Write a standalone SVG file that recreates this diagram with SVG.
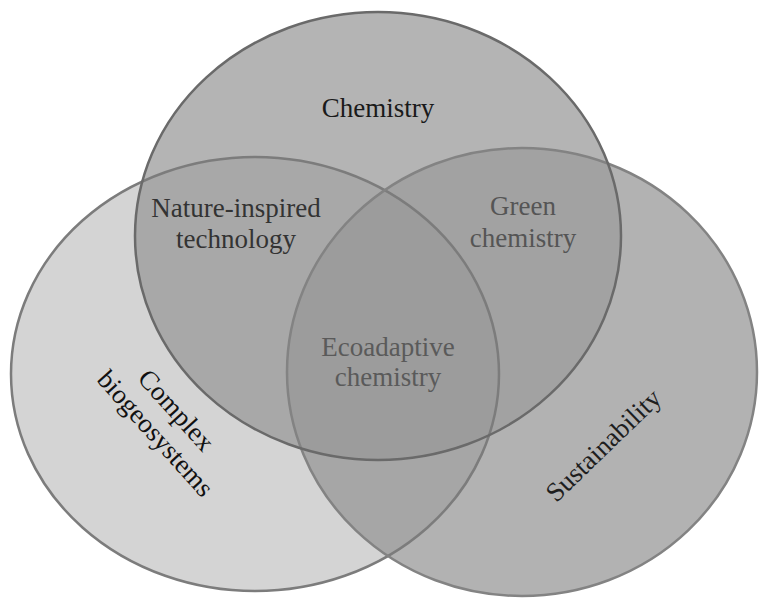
<svg xmlns="http://www.w3.org/2000/svg" width="760" height="598" viewBox="0 0 760 598">
  <style>
    .lbl { font-family: "Liberation Serif", "Times New Roman", serif; font-size: 27px; text-anchor: middle; }
    .edge { fill: none; stroke-width: 2.5; }
  </style>
  <defs>
    <ellipse id="eTop" cx="378" cy="236" rx="243" ry="224"/>
    <ellipse id="eLeft" cx="255" cy="374" rx="244" ry="217"/>
    <ellipse id="eRight" cx="522" cy="372" rx="235" ry="224"/>
    <clipPath id="cLeft"><use href="#eLeft"/></clipPath>
    <clipPath id="cRight"><use href="#eRight"/></clipPath>
  </defs>
  <rect width="760" height="598" fill="#ffffff"/>

  <g id="regions">
    <use href="#eLeft" fill="#d4d4d4"/>
    <use href="#eRight" fill="#b2b2b2"/>
    <use href="#eTop" fill="#b4b4b4"/>
    <use href="#eTop" fill="#a8a8a8" clip-path="url(#cLeft)"/>
    <use href="#eTop" fill="#a2a2a2" clip-path="url(#cRight)"/>
    <use href="#eLeft" fill="#a6a6a6" clip-path="url(#cRight)"/>
    <g clip-path="url(#cRight)">
      <use href="#eTop" fill="#9c9c9c" clip-path="url(#cLeft)"/>
    </g>
  </g>

  <g id="complex-biogeosystems">
    <use href="#eLeft" class="edge" stroke="#7c7c7c"/>
    <text class="lbl" fill="#111111" transform="translate(166,424) rotate(48)">
      <tspan x="0" y="-8">Complex</tspan>
      <tspan x="0" y="23">biogeosystems</tspan>
    </text>
  </g>

  <g id="sustainability">
    <use href="#eRight" class="edge" stroke="#838383"/>
    <text class="lbl" fill="#1e1e1e" transform="translate(604,446) rotate(-44)" y="8">Sustainability</text>
  </g>

  <g id="chemistry">
    <use href="#eTop" class="edge" stroke="#6a6a6a"/>
    <text class="lbl" fill="#1a1a1a" x="378" y="117">Chemistry</text>
  </g>

  <g id="nature-inspired-technology">
    <text class="lbl" fill="#333333" x="236" y="217">Nature-inspired</text>
    <text class="lbl" fill="#333333" x="236" y="248">technology</text>
  </g>

  <g id="green-chemistry">
    <text class="lbl" fill="#555555" x="523" y="215">Green</text>
    <text class="lbl" fill="#555555" x="523" y="247">chemistry</text>
  </g>

  <g id="ecoadaptive-chemistry">
    <text class="lbl" fill="#5a5a5a" x="388" y="356">Ecoadaptive</text>
    <text class="lbl" fill="#5a5a5a" x="388" y="386">chemistry</text>
  </g>

  <g id="connectors"/>
</svg>
